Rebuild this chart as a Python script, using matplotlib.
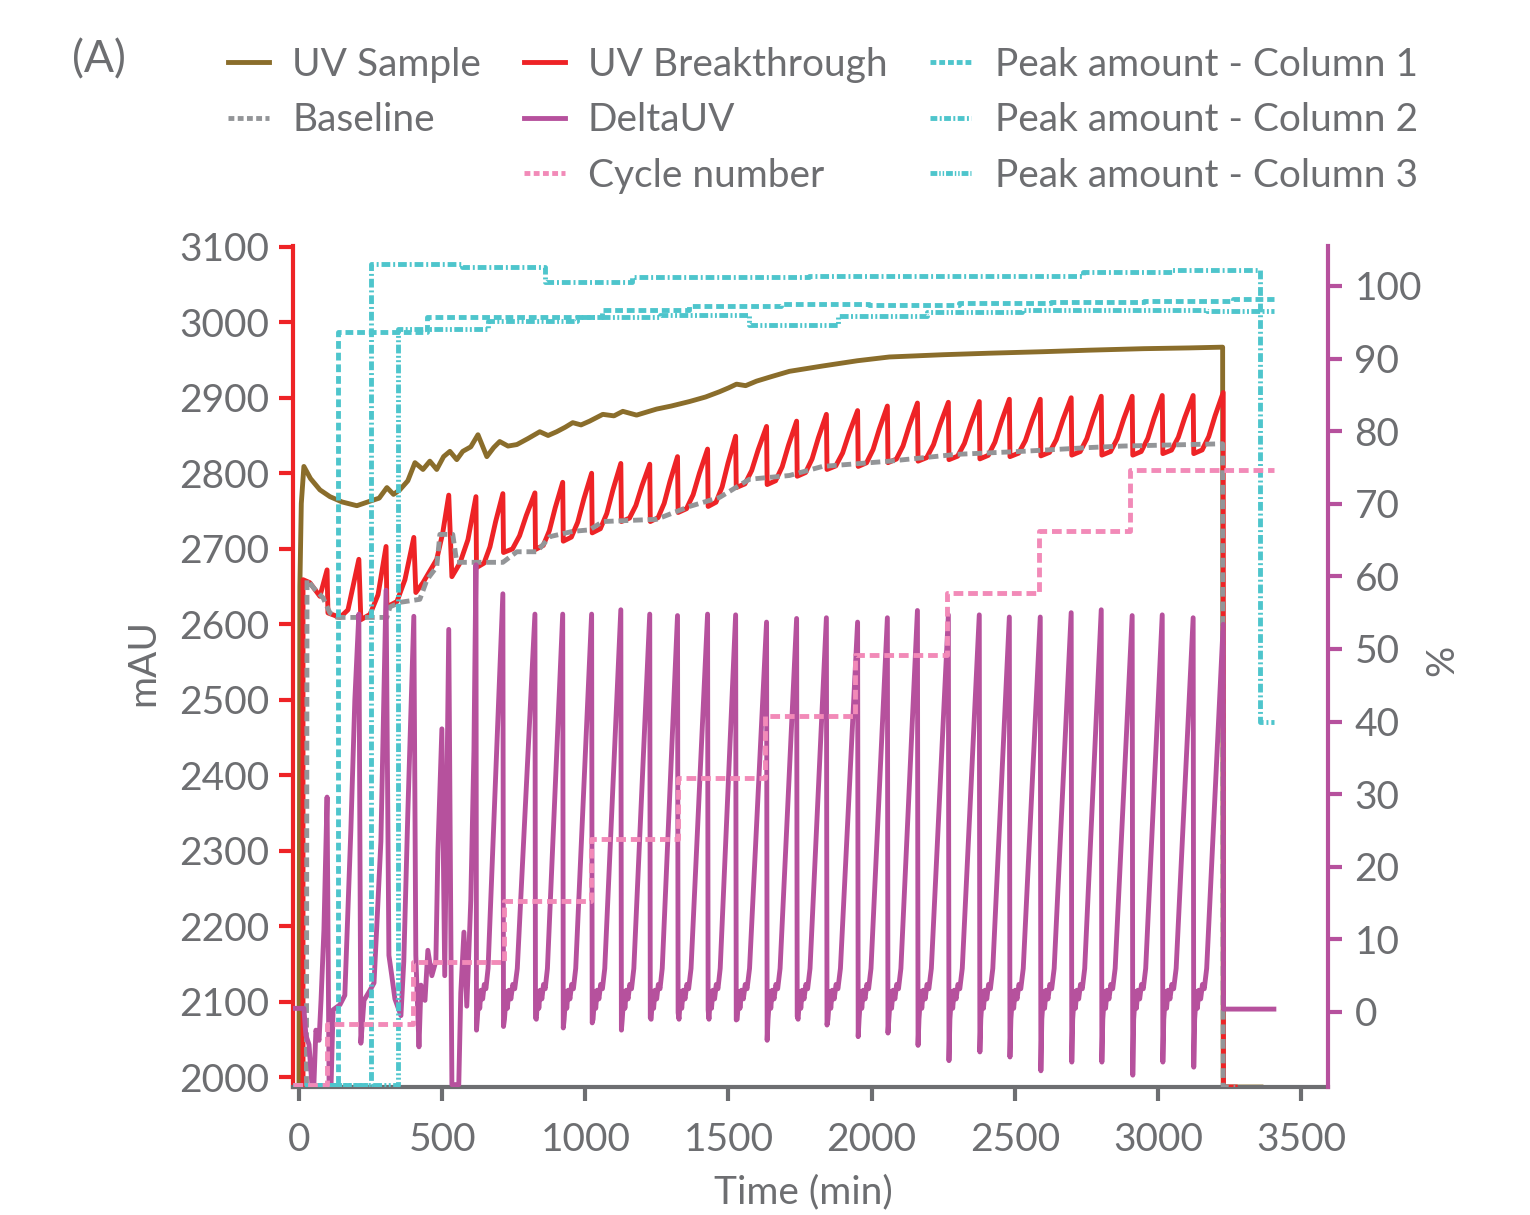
import matplotlib
matplotlib.use("Agg")
import matplotlib.pyplot as plt
from matplotlib.lines import Line2D

plt.rcParams['font.family'] = ['Lato', 'DejaVu Sans']

# ---------------- data ----------------
# UV Sample (mAU)
sample_t = [0, 3, 8, 17, 40, 73, 108, 150, 202, 248, 280, 307, 330, 352, 380, 405, 433,
            457, 481, 505, 527, 551, 572, 600, 625, 656, 680, 701, 730, 761, 800, 841,
            870, 900, 930, 956, 985, 1015, 1061, 1100, 1131, 1179, 1249, 1300, 1364,
            1420, 1469, 1500, 1528, 1560, 1598, 1650, 1713, 1828, 1950, 2062, 2250,
            2411, 2600, 2760, 2950, 3109, 3226, 3228, 3360]
sample_v = [1987, 2650, 2760, 2809, 2793, 2778, 2769, 2762, 2757, 2763, 2767, 2781,
            2772, 2778, 2790, 2814, 2805, 2816, 2805, 2822, 2829, 2818, 2829, 2835,
            2851, 2822, 2834, 2842, 2836, 2838, 2846, 2855, 2850, 2855, 2861, 2867,
            2864, 2869, 2878, 2876, 2882, 2877, 2885, 2889, 2895, 2901, 2908, 2913,
            2918, 2916, 2922, 2928, 2935, 2942, 2949, 2954, 2957, 2959, 2961, 2963,
            2965, 2966, 2967, 1987, 1987]

# Baseline (mAU)
base_t = [-21, 26, 28, 56, 84, 108, 133, 307, 318, 353, 422, 447, 481, 492, 537, 551,
          712, 761, 831, 876, 956, 1015, 1061, 1249, 1364, 1469, 1573, 1713, 1828,
          2062, 2296, 2526, 2760, 2875, 3109, 3226, 3228, 3270]
base_v = [1987, 1987, 2659, 2646, 2635, 2615, 2609, 2609, 2623, 2629, 2633, 2659,
          2676, 2719, 2719, 2682, 2682, 2696, 2696, 2716, 2723, 2725, 2736, 2739,
          2756, 2768, 2792, 2797, 2809, 2816, 2825, 2829, 2834, 2836, 2838, 2839,
          1987, 1987]

# UV Breakthrough: irregular start, then one tooth per load cycle
red_early_t = [14, 14, 38, 73, 98, 101, 143, 171, 209, 216, 248, 276, 304, 307, 342,
               370, 401, 408, 433, 481, 502, 523, 534, 562, 590]
red_early_v = [1987, 2659, 2655, 2637, 2672, 2615, 2609, 2619, 2686, 2606, 2613, 2639,
               2703, 2623, 2630, 2659, 2715, 2642, 2655, 2686, 2721, 2771, 2663, 2681,
               2712]
peak_t = [618, 712, 824, 921, 1022, 1124, 1225, 1322, 1427, 1525, 1633, 1738, 1842,
          1951, 2055, 2160, 2268, 2376, 2481, 2589, 2697, 2802, 2910, 3015, 3123, 3228]
red_peak = [2769, 2773, 2774, 2788, 2800, 2813, 2812, 2822, 2832, 2849, 2862, 2869,
            2878, 2883, 2889, 2893, 2894, 2895, 2898, 2898, 2900, 2902, 2902, 2903,
            2903, 2907]
red_trough = [2675, 2695, 2699, 2710, 2721, 2736, 2736, 2748, 2756, 2781, 2785, 2796,
              2805, 2809, 2814, 2816, 2818, 2819, 2822, 2823, 2824, 2824, 2824, 2826,
              2826]
red_rise_f = [0.30, 0.52, 0.73]
red_rise_h = [0.06, 0.28, 0.62]

# DeltaUV (%)
du_early_t = [-21, 17, 24, 35, 45, 52, 59, 70, 77, 87, 98, 105, 112, 119, 143, 160,
              181, 195, 209, 216, 227, 248, 262, 276, 286, 304, 314, 324, 335, 356,
              366, 380, 401, 408, 419, 426, 440, 450, 464, 478, 485, 499, 509, 516,
              523, 534, 558, 565, 576, 586, 600, 611]
du_early_v = [0.5, 0.5, -3.2, -4.5, -10, -10, -2.5, -3.9, 1.7, 11.3, 29.6, -10, -10,
              0.3, 1.0, 2.3, 25, 43, 54.8, -4.3, 1.6, 3.0, 4.0, 15.4, 23.5, 58.1, 7.8,
              5.0, 1.8, -0.5, 7.0, 27.3, 54.5, 7.8, -4.8, 3.7, 1.6, 8.5, 5.0, 7.0, 22,
              39, 5.0, 29, 52.7, -10, -10, 2.6, 11, 0.8, 15.4, 36]
du_peak = [61.6, 57.6, 54.8, 54.8, 54.8, 55.4, 54.8, 54.6, 54.8, 54.7, 53.7, 54.2,
           54.3, 53.7, 54.3, 55.3, 54.7, 54.7, 54.4, 54.4, 55.0, 55.4, 54.6, 54.7,
           54.3, 53.4]
du_trough = [-2.5, -2.0, -0.8, -2.2, -1.5, -2.5, -0.8, -0.1, 0.3, -1.1, -3.9, -0.6,
             -1.8, -3.4, -2.9, -4.6, -6.7, -5.5, -6.2, -8.1, -6.9, -6.9, -8.7, -6.9,
             -7.6]
du_plat_f = [0.05, 0.08, 0.11, 0.14, 0.19, 0.25, 0.31, 0.37, 0.45]
du_plat_v = [-1.0, 1.0, 2.8, 0.5, 3.0, 1.8, 3.8, 3.2, 6.0]
du_end_t = [3229, 3405]
du_end_v = [0.4, 0.4]

# Cycle number
cycle_t = [-21, 98, 398, 715, 1019, 1322, 1629, 1943, 2263, 2585, 2903, 3405]
cycle_v = [0, 1, 2, 3, 4, 5, 6, 7, 8, 9, 10, 10]

# Peak amounts (%)
col1_t = [-21, 136, 447, 1057, 1361, 1682, 1992, 2306, 2627, 2952, 3262, 3405]
col1_v = [-10, 93.7, 95.7, 96.7, 97.2, 97.5, 97.4, 97.7, 97.8, 97.9, 98.2, 98.2]
col2_t = [-21, 251, 569, 858, 1162, 1783, 2739, 3050, 3357, 3405]
col2_v = [-10, 103.0, 102.6, 100.6, 101.2, 101.4, 101.9, 102.2, 39.9, 39.9]
col3_t = [-21, 345, 659, 970, 1260, 1570, 1881, 2195, 2526, 3172, 3405]
col3_v = [-10, 94.1, 95.2, 95.7, 96.0, 94.6, 95.9, 96.4, 96.7, 96.6, 96.6]

x_ticks = [0, 500, 1000, 1500, 2000, 2500, 3000, 3500]
mau_ticks = [2000, 2100, 2200, 2300, 2400, 2500, 2600, 2700, 2800, 2900, 3000, 3100]
pct_ticks = [0, 10, 20, 30, 40, 50, 60, 70, 80, 90, 100]

# ---------------- build the saw-tooth traces ----------------
red_t, red_v = list(red_early_t), list(red_early_v)
red_t.append(peak_t[0]); red_v.append(red_peak[0])
du_t, du_v = list(du_early_t), list(du_early_v)
du_t.append(peak_t[0]); du_v.append(du_peak[0])
for i in range(len(peak_t) - 1):
    ta, tb = peak_t[i], peak_t[i + 1]
    p = tb - ta
    tr, pk = red_trough[i], red_peak[i + 1]
    red_t.append(ta + 0.02 * p); red_v.append(tr)
    for f, h in zip(red_rise_f, red_rise_h):
        red_t.append(ta + f * p); red_v.append(tr + h * (pk - tr))
    red_t.append(tb); red_v.append(pk)
    du_t.append(ta + 0.02 * p); du_v.append(du_trough[i])
    for f, lv in zip(du_plat_f, du_plat_v):
        du_t.append(ta + f * p); du_v.append(lv)
    du_t.append(tb); du_v.append(du_peak[i + 1])
red_t += [3229, 3270]; red_v += [1987, 1987]
du_t += du_end_t; du_v += du_end_v

# ---------------- styling ----------------
OLIVE = '#8a6d2b'
RED = '#ee2326'
GRAY = '#939598'
PURPLE = '#b6519d'
PINK = '#f28ab8'
CYAN = '#4ec5cc'
TXT = '#6d6e71'
FS = 28
LW = 3.5

W, H = 1530, 1215
fig = plt.figure(figsize=(W / 100, H / 100), dpi=100)
ax = fig.add_axes([293 / W, 1 - 1087 / H, (1328 - 293) / W, (1087 - 246) / H])
ax2 = ax.twinx()
ax3 = ax.twinx()

ax.plot(sample_t, sample_v, color=OLIVE, lw=LW, solid_joinstyle='round', zorder=2)
ax.plot(red_t, red_v, color=RED, lw=LW, solid_joinstyle='round', zorder=3)
ax.plot(base_t, base_v, color=GRAY, lw=LW, ls=(0, (2.0, 1.0)), zorder=4)

ax2.plot(du_t, du_v, color=PURPLE, lw=LW, solid_joinstyle='round', zorder=2)
ax2.plot(col1_t, col1_v, color=CYAN, lw=LW, ls=(0, (1.6, 0.8)), drawstyle='steps-post', zorder=3)
ax2.plot(col2_t, col2_v, color=CYAN, lw=LW, ls=(0, (1.8, 0.6, 0.4, 0.6)), drawstyle='steps-post', zorder=3)
ax2.plot(col3_t, col3_v, color=CYAN, lw=LW, ls=(0, (1.8, 0.5, 0.4, 0.5, 0.4, 0.5)), drawstyle='steps-post', zorder=3)

ax3.plot(cycle_t, cycle_v, color=PINK, lw=LW, ls=(0, (2.0, 1.0)), drawstyle='steps-post')

ax.set_xlim(-21, 3594)
ax.set_ylim(1987, 3101)
ax2.set_ylim(-10.33, 105.5)
ax3.set_ylim(-0.03, 13.64)
ax3.axis('off')

ax.set_xticks(x_ticks)
ax.set_yticks(mau_ticks)
ax2.set_yticks(pct_ticks)

for s in ['top', 'right']:
    ax.spines[s].set_visible(False)
for s in ['top', 'left', 'bottom']:
    ax2.spines[s].set_visible(False)
ax.spines['left'].set_color(RED)
ax.spines['left'].set_linewidth(3)
ax.spines['bottom'].set_color(TXT)
ax.spines['bottom'].set_linewidth(3)
ax2.spines['right'].set_color(PURPLE)
ax2.spines['right'].set_linewidth(3)

ax.tick_params(axis='y', colors=RED, labelcolor=TXT, labelsize=FS, length=10, width=3, pad=7)
ax.tick_params(axis='x', colors=TXT, labelcolor=TXT, labelsize=FS, length=10, width=3, pad=15)
ax2.tick_params(axis='y', colors=PURPLE, labelcolor=TXT, labelsize=FS, length=10, width=3, pad=9)

fig.text(143 / W, 1 - 662 / H, 'mAU', rotation=90, ha='center', va='center', fontsize=FS, color=TXT)
fig.text(1442 / W, 1 - 660 / H, '%', rotation=90, ha='center', va='center', fontsize=FS, color=TXT)
fig.text(803 / W, 1 - 1192 / H, 'Time (min)', ha='center', va='center', fontsize=FS, color=TXT)
fig.text(72 / W, 1 - 60 / H, '(A)', ha='left', va='center', fontsize=FS + 4, color=TXT)

# legend: three columns, first column has an empty third slot
blank = Line2D([], [], color='none')
handles = [
    Line2D([], [], color=OLIVE, lw=LW),
    Line2D([], [], color=GRAY, lw=LW, ls=(0, (1.2, 0.7))),
    blank,
    Line2D([], [], color=RED, lw=LW),
    Line2D([], [], color=PURPLE, lw=LW),
    Line2D([], [], color=PINK, lw=LW, ls=(0, (1.2, 0.7))),
    Line2D([], [], color=CYAN, lw=LW, ls=(0, (1.2, 0.6))),
    Line2D([], [], color=CYAN, lw=LW, ls=(0, (1.4, 0.5, 0.4, 0.5))),
    Line2D([], [], color=CYAN, lw=LW, ls=(0, (1.4, 0.4, 0.3, 0.4, 0.3, 0.4))),
]
labels = ['UV Sample', 'Baseline', '', 'UV Breakthrough', 'DeltaUV', 'Cycle number',
          'Peak amount - Column 1', 'Peak amount - Column 2', 'Peak amount - Column 3']
fig.legend(handles, labels, ncol=3, loc='upper left', bbox_to_anchor=(228 / W, 1 - 47 / H),
           frameon=False, fontsize=FS, labelcolor=TXT, handlelength=1.05,
           handletextpad=0.6, columnspacing=1.1, labelspacing=0.5, borderpad=0,
           borderaxespad=0)

fig.savefig('out.png', dpi=100)
